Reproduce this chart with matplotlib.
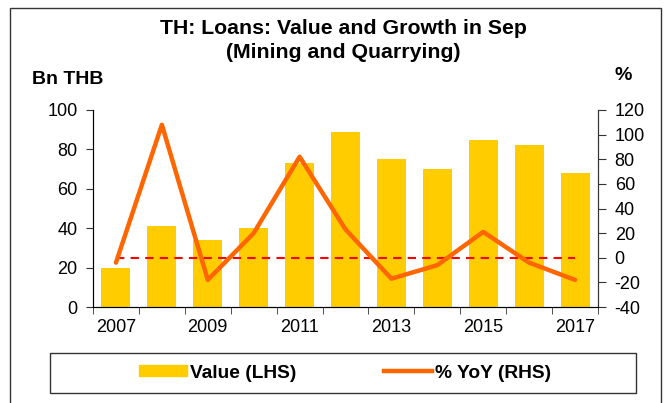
import matplotlib.pyplot as plt
import matplotlib.patches as mpatches
import numpy as np

plt.rcParams['font.family'] = ['Liberation Sans', 'DejaVu Sans']

# data
years = [2007, 2008, 2009, 2010, 2011, 2012, 2013, 2014, 2015, 2016, 2017]
value = [20, 41, 34, 40, 73, 89, 75, 70, 85, 82, 68]
yoy = [-4, 108, -18, 20, 82, 23, -17, -6, 21, -4, -18]
year_labels = ['2007', '', '2009', '', '2011', '', '2013', '', '2015', '', '2017']

fig = plt.figure(figsize=(6.7, 4.03), dpi=100)

# outer frame
fig.add_artist(mpatches.Rectangle((10 / 670, -0.05), 651 / 670, 1 - 8 / 403 + 0.05,
                                  transform=fig.transFigure, fill=False,
                                  edgecolor='#333333', linewidth=1.0))

ax = fig.add_axes([93 / 670, 1 - 307 / 403, 505 / 670, 197 / 403])
x = np.arange(len(years))
ax.bar(x, value, width=0.63, color='#FFCC00', zorder=2)
ax.set_xlim(-0.5, len(years) - 0.5)
ax.set_ylim(0, 100)
ax.set_yticks([0, 20, 40, 60, 80, 100])
ax.set_xticks(x)
ax.set_xticklabels(year_labels)
ax.tick_params(axis='x', length=0, labelsize=13, pad=9)
ax.set_xticks(np.arange(len(years) + 1) - 0.5, minor=True)
ax.tick_params(axis='x', which='minor', length=5, color='#333333')
ax.tick_params(axis='y', length=5, labelsize=13, color='#333333', pad=6)
ax.spines['top'].set_visible(False)
for s in ['left', 'bottom', 'right']:
    ax.spines[s].set_color('#333333')

ax2 = ax.twinx()
ax2.plot([x[0], x[-1]], [0, 0], color='#FF0000', linestyle=(0, (4, 3)), linewidth=1.5, zorder=3)
ax2.plot(x, yoy, color='#FF6600', linewidth=3.2, solid_capstyle='round', zorder=4)
ax2.set_ylim(-40, 120)
ax2.set_yticks(range(-40, 121, 20))
ax2.set_yticklabels([str(v) for v in range(-40, 121, 20)])
ax2.tick_params(axis='y', length=6, labelsize=13, color='#333333', pad=6)
ax2.spines['top'].set_visible(False)
ax2.spines['right'].set_color('#333333')

fig.text(343 / 670, 1 - 29 / 403, 'TH: Loans: Value and Growth in Sep', ha='center', va='center',
         fontsize=15.3, fontweight='bold')
fig.text(343 / 670, 1 - 52 / 403, '(Mining and Quarrying)', ha='center', va='center',
         fontsize=15.3, fontweight='bold')
fig.text(32 / 670, 1 - 79 / 403, 'Bn THB', ha='left', va='center', fontsize=14, fontweight='bold')
fig.text(623 / 670, 1 - 76 / 403, '%', ha='center', va='center', fontsize=14, fontweight='bold')

# legend box
fig.add_artist(mpatches.Rectangle((50 / 670, 1 - 393 / 403), 586 / 670, 40 / 403,
                                  transform=fig.transFigure, fill=False,
                                  edgecolor='#333333', linewidth=1.0))
h1 = mpatches.Patch(color='#FFCC00', label='Value (LHS)')
h2 = plt.Line2D([], [], color='#FF6600', linewidth=3.2, label='% YoY (RHS)')
fig.legend(handles=[h1, h2], loc='center', bbox_to_anchor=(345 / 670, 1 - 373 / 403),
           ncol=2, frameon=False, prop={'weight': 'bold', 'size': 13.8},
           handlelength=2.5, handleheight=0.55, handletextpad=0.15, columnspacing=4.6)

fig.savefig('out.png', dpi=100)
